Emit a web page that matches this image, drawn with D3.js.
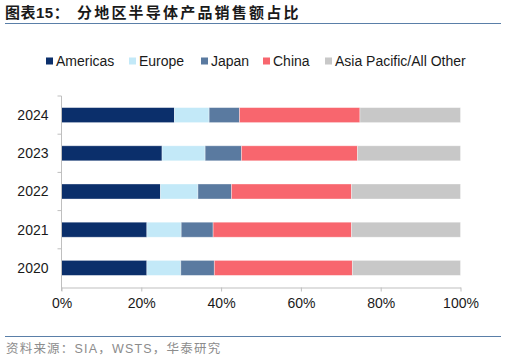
<!DOCTYPE html>
<html><head><meta charset="utf-8">
<script src="https://cdn.jsdelivr.net/npm/d3@7"></script>
<style>body{margin:0;background:#fff}svg{display:block}</style>
</head><body>
<svg id="c" width="506" height="360"></svg>
<script>
const years = ["2024","2023","2022","2021","2020"];
const seriesNames = ["Americas","Europe","Japan","China","Asia Pacific/All Other"];
const americas = [28.3, 25.2, 24.8, 21.4, 21.4];
const europe   = [8.7, 10.8, 9.4, 8.6, 8.5];
const japan    = [7.6, 9.1, 8.4, 8.0, 8.4];
const china    = [30.2, 29.1, 30.1, 34.7, 34.6];
const other    = [25.2, 25.8, 27.3, 27.3, 27.1];
const xTicks = [0, 20, 40, 60, 80, 100];
const colors = ["#0b2f6b", "#c3e9f8", "#5a7aa0", "#f8666e", "#c8c8c8"];

const svg = d3.select("#c");
const font = "'Liberation Sans', Arial, sans-serif";
const cjk = "'Liberation Sans', 'Noto Sans CJK SC', sans-serif";

// title
const title = svg.append("text").attr("y", 18)
  .style("font-family", cjk).style("font-weight", "bold")
  .style("font-size", "15px").attr("fill", "#1a1a1a");
title.append("tspan").attr("x", 5).style("letter-spacing", "0.5px").text("图表15：");
title.append("tspan").attr("x", 77).style("letter-spacing", "2.2px").text("分地区半导体产品销售额占比");
svg.append("line").attr("x1", 5).attr("x2", 501).attr("y1", 23.5).attr("y2", 23.5)
  .attr("stroke", "#5a7fa8").attr("stroke-width", 1.2);

// footer
svg.append("line").attr("x1", 5).attr("x2", 501).attr("y1", 336.5).attr("y2", 336.5)
  .attr("stroke", "#5a7fa8").attr("stroke-width", 1.2);
svg.append("text").attr("x", 6).attr("y", 353)
  .style("font-family", cjk).style("letter-spacing", "1.2px")
  .style("font-size", "12.5px").attr("fill", "#8c8c8c")
  .text("资料来源：SIA，WSTS，华泰研究");

const data = [americas, europe, japan, china, other];
const rows = years.map((y, i) => {
  const o = {year: y};
  seriesNames.forEach((s, j) => o[s] = data[j][i]);
  return o;
});
const stacked = d3.stack().keys(seriesNames)(rows);

const x = d3.scaleLinear().domain([0, 100]).range([61.5, 460.5]);
const y = d3.scaleBand().domain(years).range([96, 287])
  .paddingInner(0.607).paddingOuter(0.3035);

// bars
svg.append("g").selectAll("g").data(stacked).join("g")
  .attr("fill", (d, i) => colors[i])
  .selectAll("rect").data(d => d).join("rect")
  .attr("x", d => x(d[0]))
  .attr("y", d => y(d.data.year))
  .attr("width", d => x(d[1]) - x(d[0]))
  .attr("height", y.bandwidth())
  .attr("stroke", "#ffffff").attr("stroke-opacity", 0.45).attr("stroke-width", 0.8);

// x axis
const xAxis = svg.append("g").attr("transform", "translate(0,287.5)")
  .call(d3.axisBottom(x).tickValues(xTicks).tickFormat(d => d + "%").tickSize(4).tickSizeOuter(0));
xAxis.select(".domain").attr("stroke", "#bfbfbf");
xAxis.selectAll(".tick line").attr("stroke", "#bfbfbf");
xAxis.selectAll("text").style("font-family", font).style("font-size", "14px")
  .attr("fill", "#1a1a1a").attr("dy", "0.71em").attr("y", 11);

// y axis
const yAxis = svg.append("g").attr("transform", "translate(61.5,0)");
yAxis.append("line").attr("x1", 0).attr("x2", 0).attr("y1", 96).attr("y2", 291)
  .attr("stroke", "#bfbfbf");
const bounds = d3.range(years.length).map(i => 96 + i * y.step());
yAxis.selectAll("line.t").data(bounds).join("line").attr("class", "t")
  .attr("x1", -4).attr("x2", 0).attr("y1", d => d).attr("y2", d => d).attr("stroke", "#bfbfbf");
yAxis.selectAll("text").data(years).join("text")
  .attr("x", -13).attr("y", d => y(d) + y.bandwidth() / 2).attr("dy", "0.35em")
  .attr("text-anchor", "end").style("font-family", font).style("font-size", "14px")
  .attr("fill", "#1a1a1a").text(d => d);

// legend
const legendX = [46, 129, 201, 263, 325];
const lg = svg.append("g").selectAll("g").data(seriesNames).join("g")
  .attr("transform", (d, i) => `translate(${legendX[i]},61)`);
lg.append("rect").attr("x", 0).attr("y", -3.5).attr("width", 7).attr("height", 7)
  .attr("fill", (d, i) => colors[i]);
lg.append("text").attr("x", 10).attr("y", 0).attr("dy", "0.35em")
  .style("font-family", font).style("font-size", "14px").attr("fill", "#1a1a1a")
  .text(d => d);
</script>
</body></html>
